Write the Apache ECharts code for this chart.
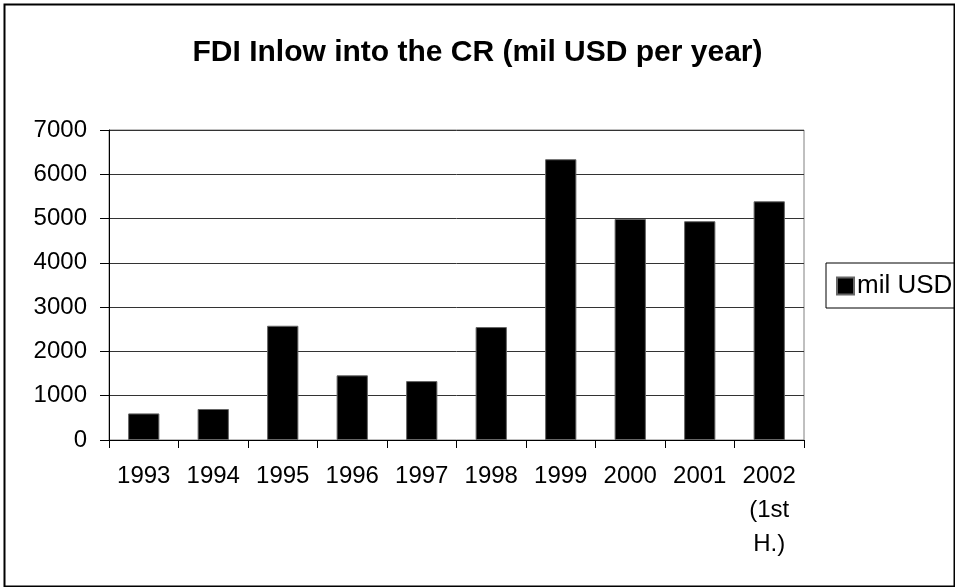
<!DOCTYPE html>
<html><head><meta charset="utf-8">
<script src="https://cdn.jsdelivr.net/npm/echarts@6/dist/echarts.min.js"></script>
<style>html,body{margin:0;padding:0;background:#fff}#c{width:955px;height:587px}</style>
</head><body><div id="c"></div>
<script>
const categories = ['1993','1994','1995','1996','1997','1998','1999','2000','2001','2002\n(1st\nH.)'];
const values = [600, 700, 2580, 1460, 1330, 2550, 6340, 4990, 4940, 5390];
const seriesName = 'mil USD';
const titleText = 'FDI Inlow into the CR (mil USD per year)';
const FONT = '"Liberation Sans", Arial, sans-serif';

const chart = echarts.init(document.getElementById('c'), null, {renderer:'canvas'});
chart.setOption({
  animation: false,
  backgroundColor: '#fff',
  title: {
    text: titleText, left: 'center', top: 33,
    textStyle: {fontFamily: FONT, fontSize: 30, fontWeight: 'bold', color: '#000'}
  },
  legend: {
    left: 826, top: 263, orient: 'vertical',
    itemWidth: 17, itemHeight: 17, itemGap: 0,
    padding: [10, 20, 9, 10],
    borderColor: '#000', borderWidth: 1,
    textStyle: {fontFamily: FONT, fontSize: 26, color: '#000', padding: [0,0,0,-2]},
    icon: 'rect',
    data: [seriesName]
  },
  grid: {left: 109, right: 151, top: 130, bottom: 147, show: true, borderColor: '#808080', borderWidth: 1},
  xAxis: {
    type: 'category', data: categories,
    axisLine: {lineStyle: {color: '#000', width: 1}},
    axisTick: {show: true, length: 8, lineStyle: {color: '#000'}},
    axisLabel: {fontFamily: FONT, fontSize: 24, color: '#000', margin: 19, lineHeight: 34, interval: 0}
  },
  yAxis: {
    type: 'value', min: 0, max: 7000, interval: 1000,
    axisLine: {show: true, lineStyle: {color: '#000', width: 1}},
    axisTick: {show: true, length: 9, lineStyle: {color: '#000'}},
    axisLabel: {fontFamily: FONT, fontSize: 24, color: '#000', margin: 22, formatter: v => String(v)},
    splitLine: {lineStyle: {color: '#333', width: 1}}
  },
  series: [{
    name: seriesName, type: 'bar', data: values,
    barCategoryGap: '55%',
    itemStyle: {color: '#000', borderColor: '#666', borderWidth: 1}
  }],
  graphic: [{
    type: 'rect', left: 2, top: 2, silent: true,
    shape: {width: 950, height: 582},
    style: {fill: 'none', stroke: '#000', lineWidth: 2}
  }]
});
</script></body></html>
